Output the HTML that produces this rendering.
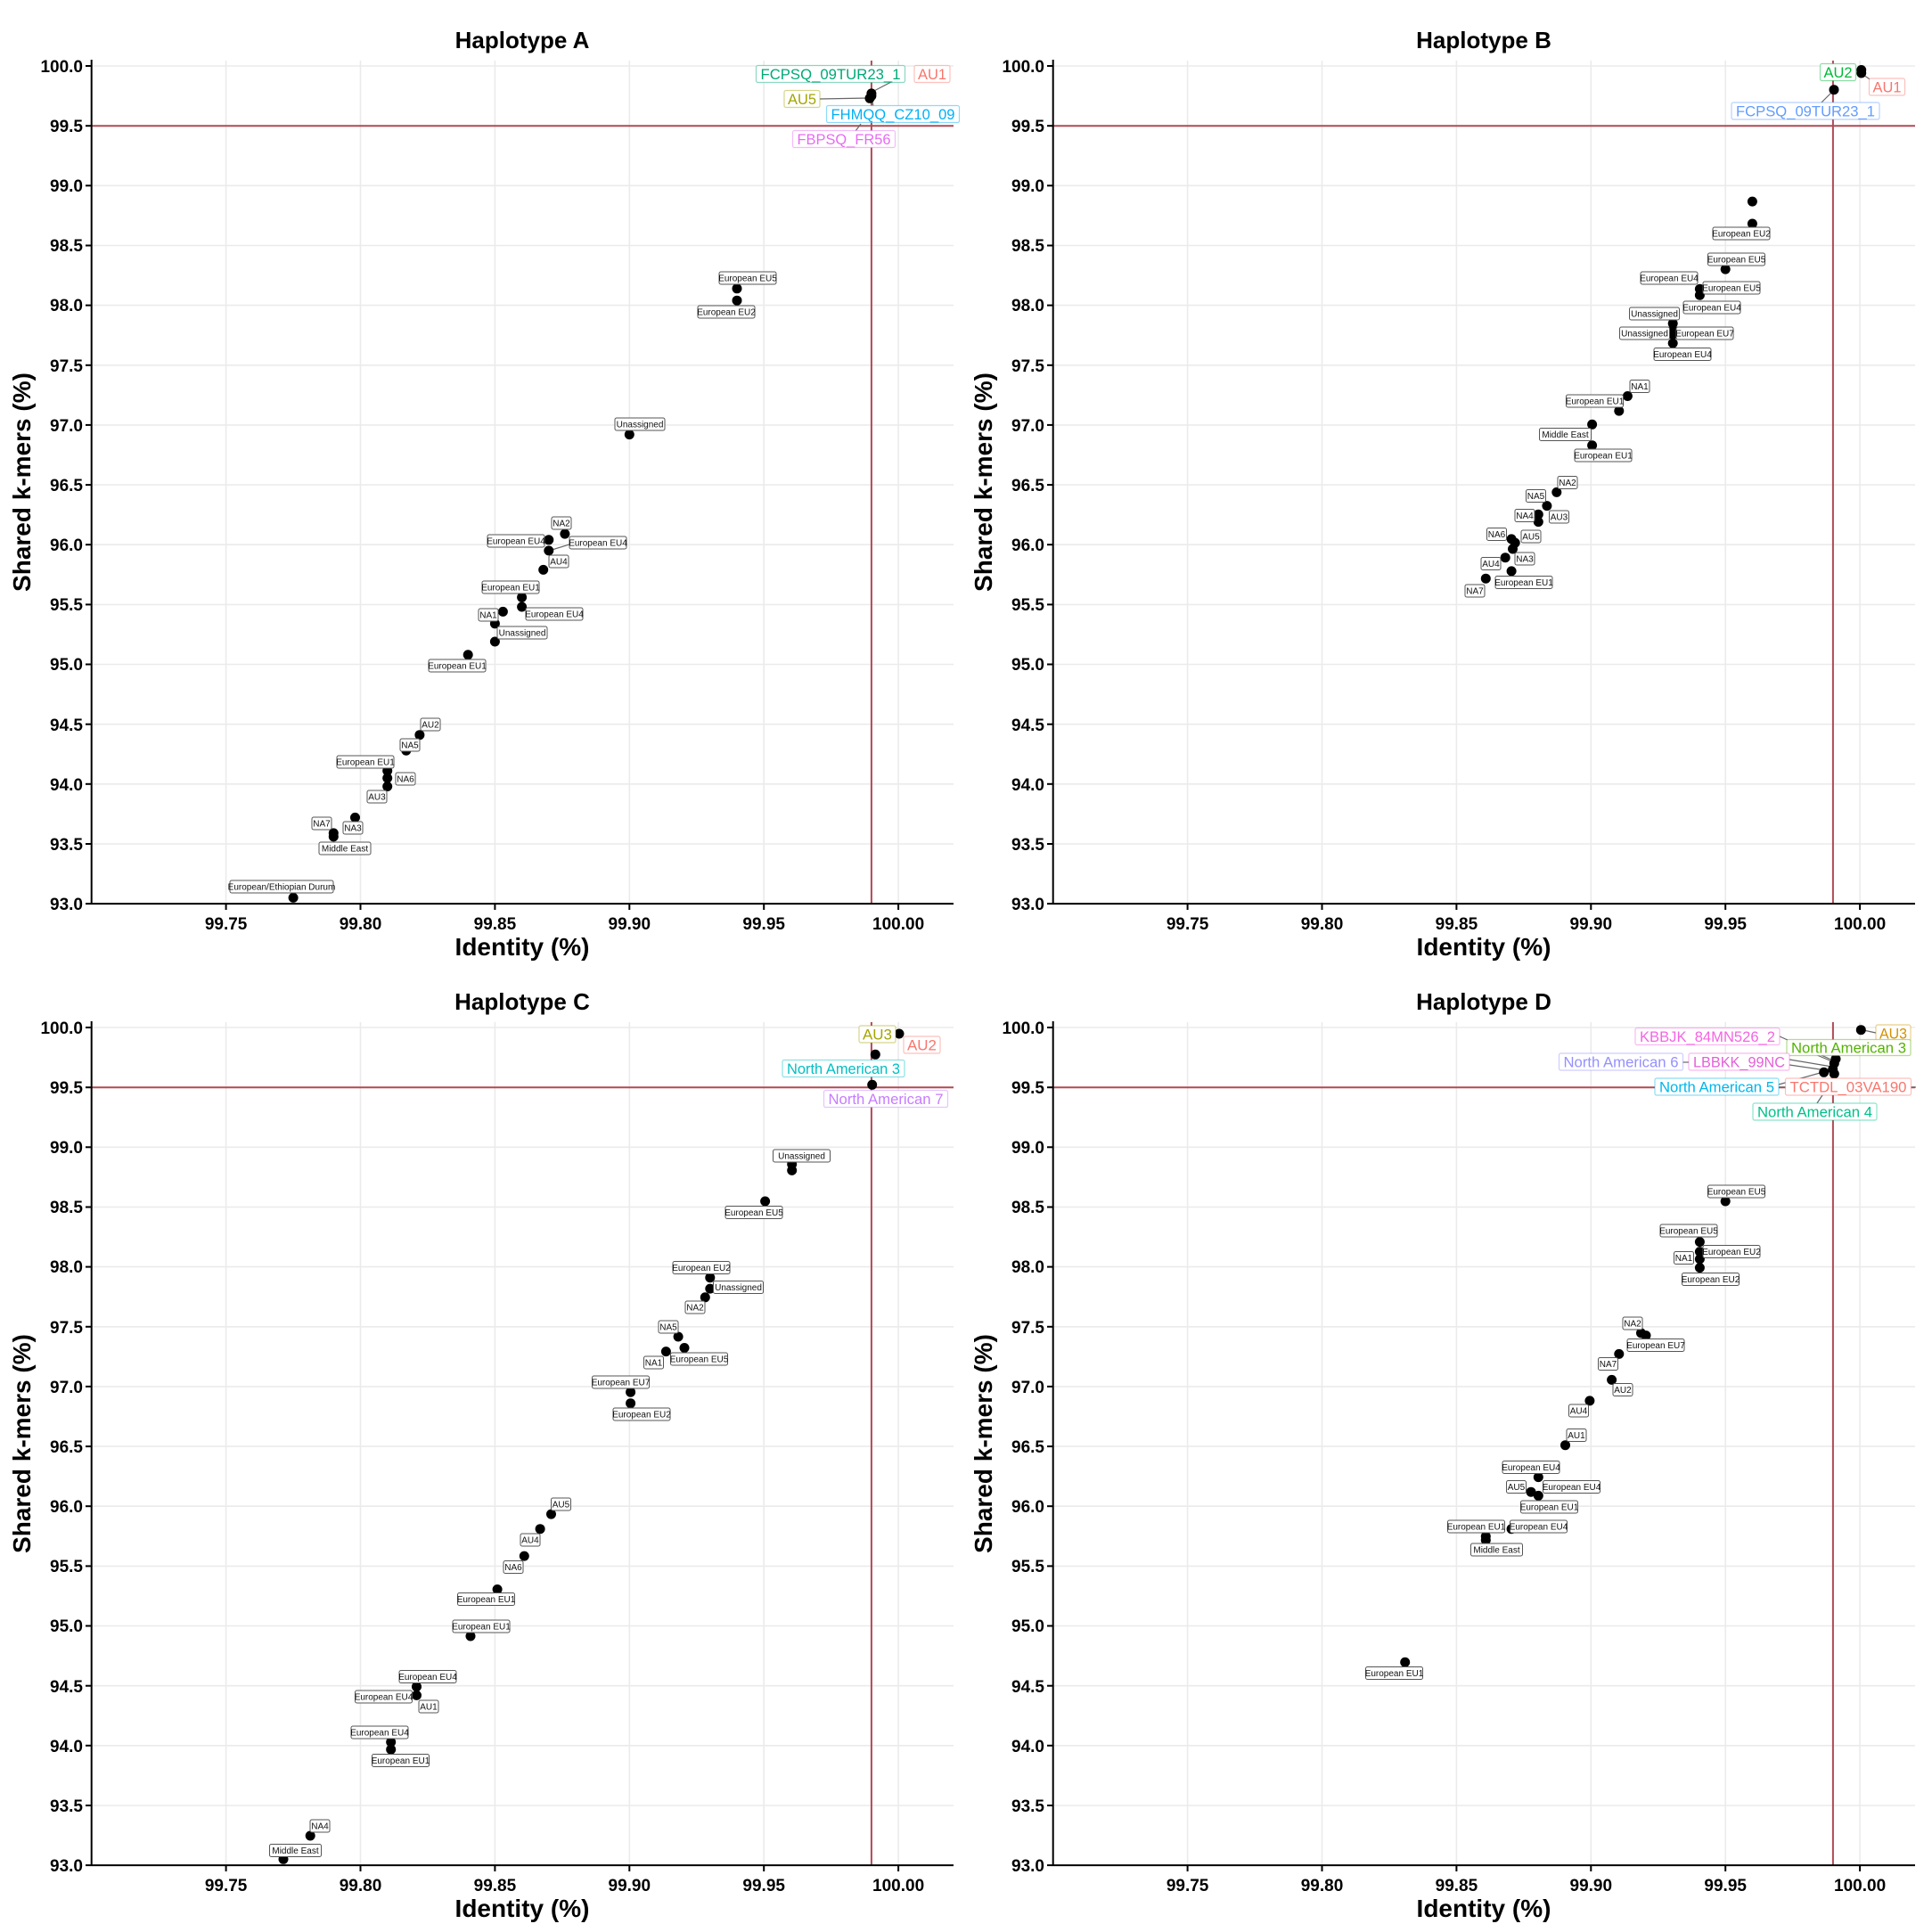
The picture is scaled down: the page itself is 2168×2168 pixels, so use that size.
<!DOCTYPE html>
<html><head><meta charset="utf-8"><style>
html,body{margin:0;padding:0;background:#fff}
svg{display:block}
text{font-family:"Liberation Sans",sans-serif}
.tk{font-size:19px;font-weight:bold;fill:#000}
.ti{font-size:26px;font-weight:bold;text-anchor:middle}
.al{font-size:28px;font-weight:bold;text-anchor:middle}
.g{stroke:#ebebeb;stroke-width:1.6}
.r{stroke:#b04a55;stroke-width:2}
.s rect{fill:#fff;stroke:#555;stroke-width:1;rx:2}
.s text{font-size:10px;text-anchor:middle;fill:#111}
.b rect{fill:#fff;stroke-width:1.2;rx:2;stroke-opacity:.45}
.b text{font-size:17px;text-anchor:middle}
.c{stroke:#666;stroke-width:1.2}
</style></head><body>
<svg width="2168" height="2168" viewBox="0 0 2168 2168" xmlns="http://www.w3.org/2000/svg">
<rect width="2168" height="2168" fill="#fff"/>
<defs>
<g id="ax">
<g class="g">
<line x1="253.6" y1="68" x2="253.6" y2="1014"/><line x1="404.5" y1="68" x2="404.5" y2="1014"/><line x1="555.4" y1="68" x2="555.4" y2="1014"/><line x1="706.3" y1="68" x2="706.3" y2="1014"/><line x1="857.2" y1="68" x2="857.2" y2="1014"/><line x1="1008.1" y1="68" x2="1008.1" y2="1014"/>
<line x1="103" y1="74" x2="1070" y2="74"/><line x1="103" y1="141.2" x2="1070" y2="141.2"/><line x1="103" y1="208.3" x2="1070" y2="208.3"/><line x1="103" y1="275.5" x2="1070" y2="275.5"/><line x1="103" y1="342.6" x2="1070" y2="342.6"/><line x1="103" y1="409.8" x2="1070" y2="409.8"/><line x1="103" y1="476.9" x2="1070" y2="476.9"/><line x1="103" y1="544.1" x2="1070" y2="544.1"/><line x1="103" y1="611.2" x2="1070" y2="611.2"/><line x1="103" y1="678.4" x2="1070" y2="678.4"/><line x1="103" y1="745.5" x2="1070" y2="745.5"/><line x1="103" y1="812.7" x2="1070" y2="812.7"/><line x1="103" y1="879.8" x2="1070" y2="879.8"/><line x1="103" y1="947" x2="1070" y2="947"/>
</g>
<line class="r" x1="103" y1="141.2" x2="1070" y2="141.2"/>
<line class="r" x1="977.9" y1="68" x2="977.9" y2="1014"/>
<g stroke="#000" stroke-width="2">
<line x1="102.7" y1="67" x2="102.7" y2="1015"/><line x1="101.7" y1="1014.1" x2="1070" y2="1014.1"/>
<line x1="96" y1="74" x2="102" y2="74"/><line x1="96" y1="141.2" x2="102" y2="141.2"/><line x1="96" y1="208.3" x2="102" y2="208.3"/><line x1="96" y1="275.5" x2="102" y2="275.5"/><line x1="96" y1="342.6" x2="102" y2="342.6"/><line x1="96" y1="409.8" x2="102" y2="409.8"/><line x1="96" y1="476.9" x2="102" y2="476.9"/><line x1="96" y1="544.1" x2="102" y2="544.1"/><line x1="96" y1="611.2" x2="102" y2="611.2"/><line x1="96" y1="678.4" x2="102" y2="678.4"/><line x1="96" y1="745.5" x2="102" y2="745.5"/><line x1="96" y1="812.7" x2="102" y2="812.7"/><line x1="96" y1="879.8" x2="102" y2="879.8"/><line x1="96" y1="947" x2="102" y2="947"/><line x1="96" y1="1014.1" x2="102" y2="1014.1"/>
<line x1="253.6" y1="1015" x2="253.6" y2="1021"/><line x1="404.5" y1="1015" x2="404.5" y2="1021"/><line x1="555.4" y1="1015" x2="555.4" y2="1021"/><line x1="706.3" y1="1015" x2="706.3" y2="1021"/><line x1="857.2" y1="1015" x2="857.2" y2="1021"/><line x1="1008.1" y1="1015" x2="1008.1" y2="1021"/>
</g>
</g>
</defs>

<!-- ================= PANEL A ================= -->
<g>
<use href="#ax"/>
<g class="tk" text-anchor="end">
<text x="93" y="81">100.0</text><text x="93" y="148">99.5</text><text x="93" y="215">99.0</text><text x="93" y="282">98.5</text><text x="93" y="349">98.0</text><text x="93" y="417">97.5</text><text x="93" y="484">97.0</text><text x="93" y="551">96.5</text><text x="93" y="618">96.0</text><text x="93" y="685">95.5</text><text x="93" y="752">95.0</text><text x="93" y="820">94.5</text><text x="93" y="887">94.0</text><text x="93" y="954">93.5</text><text x="93" y="1021">93.0</text>
</g>
<g class="tk" text-anchor="middle">
<text x="253.6" y="1043">99.75</text><text x="404.5" y="1043">99.80</text><text x="555.4" y="1043">99.85</text><text x="706.3" y="1043">99.90</text><text x="857.2" y="1043">99.95</text><text x="1008.1" y="1043">100.00</text>
</g>
<text class="ti" x="586" y="54">Haplotype A</text>
<text class="al" x="586" y="1072">Identity (%)</text>
<text class="al" transform="translate(34,541) rotate(-90)">Shared k-mers (%)</text>
<g class="c"><line x1="642" y1="610" x2="616" y2="618"/><line x1="1000" y1="92" x2="977" y2="104"/><line x1="920" y1="111" x2="975" y2="110"/><line x1="980" y1="119" x2="978" y2="110"/><line x1="960" y1="147" x2="966" y2="139"/></g>
<g fill="#000">
<circle cx="1008.1" cy="83.4" r="5.5"/><circle cx="977.9" cy="104.9" r="5.5"/><circle cx="977.9" cy="107.6" r="5.5"/><circle cx="976" cy="110.3" r="5.5"/>
<circle cx="827" cy="323.8" r="5.5"/><circle cx="827" cy="337.2" r="5.5"/><circle cx="706.3" cy="487.6" r="5.5"/>
<circle cx="633.9" cy="599.1" r="5.5"/><circle cx="615.8" cy="605.8" r="5.5"/><circle cx="615.8" cy="617.9" r="5.5"/><circle cx="609.7" cy="639.4" r="5.5"/>
<circle cx="585.6" cy="670.3" r="5.5"/><circle cx="585.6" cy="681" r="5.5"/><circle cx="564.4" cy="686.4" r="5.5"/><circle cx="555.4" cy="699.8" r="5.5"/><circle cx="555.4" cy="720" r="5.5"/>
<circle cx="525.2" cy="734.8" r="5.5"/><circle cx="470.9" cy="824.7" r="5.5"/><circle cx="455.8" cy="842.2" r="5.5"/>
<circle cx="434.7" cy="865" r="5.5"/><circle cx="434.7" cy="873.1" r="5.5"/><circle cx="434.7" cy="882.5" r="5.5"/>
<circle cx="398.5" cy="917.4" r="5.5"/><circle cx="374.3" cy="934.9" r="5.5"/><circle cx="374.3" cy="938.9" r="5.5"/><circle cx="329.1" cy="1007.4" r="5.5"/>
</g>
<g class="s">
<rect x="807" y="305" width="64" height="14"/><text x="839" y="315.5">European EU5</text>
<rect x="783" y="343" width="64" height="14"/><text x="815" y="353.5">European EU2</text>
<rect x="690" y="469" width="56" height="14"/><text x="718" y="479.5">Unassigned</text>
<rect x="619" y="580" width="22" height="14"/><text x="630" y="590.5">NA2</text>
<rect x="547" y="600" width="64" height="14"/><text x="579" y="610.5">European EU4</text>
<rect x="639" y="602" width="64" height="14"/><text x="671" y="612.5">European EU4</text>
<rect x="616" y="623" width="22" height="14"/><text x="627" y="633.5">AU4</text>
<rect x="541" y="652" width="64" height="14"/><text x="573" y="662.5">European EU1</text>
<rect x="590" y="682" width="64" height="14"/><text x="622" y="692.5">European EU4</text>
<rect x="537" y="683" width="22" height="14"/><text x="548" y="693.5">NA1</text>
<rect x="558" y="703" width="56" height="14"/><text x="586" y="713.5">Unassigned</text>
<rect x="481" y="740" width="64" height="14"/><text x="513" y="750.5">European EU1</text>
<rect x="472" y="806" width="22" height="14"/><text x="483" y="816.5">AU2</text>
<rect x="449" y="829" width="22" height="14"/><text x="460" y="839.5">NA5</text>
<rect x="378" y="848" width="64" height="14"/><text x="410" y="858.5">European EU1</text>
<rect x="444" y="867" width="22" height="14"/><text x="455" y="877.5">NA6</text>
<rect x="412" y="887" width="22" height="14"/><text x="423" y="897.5">AU3</text>
<rect x="385" y="922" width="22" height="14"/><text x="396" y="932.5">NA3</text>
<rect x="350" y="917" width="22" height="14"/><text x="361" y="927.5">NA7</text>
<rect x="358" y="945" width="58" height="14"/><text x="387" y="955.5">Middle East</text>
<rect x="258" y="988" width="116" height="14"/><text x="316" y="998.5">European/Ethiopian Durum</text>
</g>
<g class="b">
<rect x="848.5" y="73.5" width="167" height="19" stroke="#00A878"/><text x="932" y="89" fill="#00A878" textLength="157" lengthAdjust="spacingAndGlyphs">FCPSQ_09TUR23_1</text>
<rect x="1026" y="73.5" width="40" height="19" stroke="#F8766D"/><text x="1046" y="89" fill="#F8766D" textLength="32" lengthAdjust="spacingAndGlyphs">AU1</text>
<rect x="880" y="101.5" width="40" height="19" stroke="#A3A500"/><text x="900" y="117" fill="#A3A500" textLength="32" lengthAdjust="spacingAndGlyphs">AU5</text>
<rect x="927.5" y="118.5" width="149" height="19" stroke="#00B0F6"/><text x="1002" y="134" fill="#00B0F6" textLength="139" lengthAdjust="spacingAndGlyphs">FHMQQ_CZ10_09</text>
<rect x="889.5" y="146.5" width="115" height="19" stroke="#E76BF3"/><text x="947" y="162" fill="#E76BF3" textLength="105" lengthAdjust="spacingAndGlyphs">FBPSQ_FR56</text>
</g>
</g>

<!-- ================= PANEL B ================= -->
<g transform="translate(1079,0)">
<use href="#ax"/>
<g class="tk" text-anchor="end">
<text x="93" y="81">100.0</text><text x="93" y="148">99.5</text><text x="93" y="215">99.0</text><text x="93" y="282">98.5</text><text x="93" y="349">98.0</text><text x="93" y="417">97.5</text><text x="93" y="484">97.0</text><text x="93" y="551">96.5</text><text x="93" y="618">96.0</text><text x="93" y="685">95.5</text><text x="93" y="752">95.0</text><text x="93" y="820">94.5</text><text x="93" y="887">94.0</text><text x="93" y="954">93.5</text><text x="93" y="1021">93.0</text>
</g>
<g class="tk" text-anchor="middle">
<text x="253.6" y="1043">99.75</text><text x="404.5" y="1043">99.80</text><text x="555.4" y="1043">99.85</text><text x="706.3" y="1043">99.90</text><text x="857.2" y="1043">99.95</text><text x="1008.1" y="1043">100.00</text>
</g>
<text class="ti" x="586" y="54">Haplotype B</text>
<text class="al" x="586" y="1072">Identity (%)</text>
<text class="al" transform="translate(34,541) rotate(-90)">Shared k-mers (%)</text>
<g class="c"><line x1="1012" y1="84" x2="1025" y2="93"/><line x1="965" y1="115" x2="977" y2="103"/></g>
<g fill="#000">
<circle cx="1009.7" cy="78.5" r="5.5"/><circle cx="1009.7" cy="82" r="5.5"/><circle cx="979" cy="100.7" r="5.5"/>
<circle cx="887.4" cy="226.1" r="5.5"/><circle cx="887.4" cy="251" r="5.5"/><circle cx="857.2" cy="302.1" r="5.5"/>
<circle cx="828.4" cy="324.3" r="5.5"/><circle cx="828.4" cy="331.2" r="5.5"/>
<circle cx="798.2" cy="363" r="5.5"/><circle cx="798.2" cy="369.9" r="5.5"/><circle cx="798.2" cy="375.4" r="5.5"/><circle cx="798.2" cy="385.1" r="5.5"/>
<circle cx="747.4" cy="444.5" r="5.5"/><circle cx="737.8" cy="461.1" r="5.5"/><circle cx="707.6" cy="476.3" r="5.5"/><circle cx="707.6" cy="499.8" r="5.5"/>
<circle cx="667.8" cy="552.4" r="5.5"/><circle cx="656.9" cy="567.6" r="5.5"/><circle cx="647.3" cy="577.3" r="5.5"/><circle cx="647.3" cy="585.6" r="5.5"/>
<circle cx="617.1" cy="604.9" r="5.5"/><circle cx="621.2" cy="609.1" r="5.5"/><circle cx="618.5" cy="616" r="5.5"/><circle cx="610.2" cy="625.7" r="5.5"/><circle cx="617.1" cy="640.9" r="5.5"/><circle cx="588.3" cy="649.2" r="5.5"/>
</g>
<g class="s">
<rect x="843" y="255" width="64" height="14"/><text x="875" y="265.5">European EU2</text>
<rect x="837.5" y="284" width="64" height="14"/><text x="869.5" y="294.5">European EU5</text>
<rect x="762" y="305" width="64" height="14"/><text x="794" y="315.5">European EU4</text>
<rect x="832" y="316" width="64" height="14"/><text x="864" y="326.5">European EU5</text>
<rect x="810" y="338" width="64" height="14"/><text x="842" y="348.5">European EU4</text>
<rect x="749.5" y="345" width="56" height="14"/><text x="777.5" y="355.5">Unassigned</text>
<rect x="738.5" y="367" width="56" height="14"/><text x="766.5" y="377.5">Unassigned</text>
<rect x="802" y="367" width="64" height="14"/><text x="834" y="377.5">European EU7</text>
<rect x="777" y="390.5" width="64" height="14"/><text x="809" y="401">European EU4</text>
<rect x="750" y="426.5" width="22" height="14"/><text x="761" y="437">NA1</text>
<rect x="678.5" y="443" width="64" height="14"/><text x="710.5" y="453.5">European EU1</text>
<rect x="648.5" y="480.5" width="58" height="14"/><text x="677.5" y="491">Middle East</text>
<rect x="688" y="504" width="64" height="14"/><text x="720" y="514.5">European EU1</text>
<rect x="669" y="534.5" width="22" height="14"/><text x="680" y="545">NA2</text>
<rect x="633.5" y="549.5" width="22" height="14"/><text x="644.5" y="560">NA5</text>
<rect x="621" y="571.5" width="22" height="14"/><text x="632" y="582">NA4</text>
<rect x="659.5" y="573" width="22" height="14"/><text x="670.5" y="583.5">AU3</text>
<rect x="589.5" y="592.5" width="22" height="14"/><text x="600.5" y="603">NA6</text>
<rect x="628" y="595" width="22" height="14"/><text x="639" y="605.5">AU5</text>
<rect x="621" y="620" width="22" height="14"/><text x="632" y="630.5">NA3</text>
<rect x="583" y="625.5" width="22" height="14"/><text x="594" y="636">AU4</text>
<rect x="599" y="646.5" width="64" height="14"/><text x="631" y="657">European EU1</text>
<rect x="565" y="656" width="22" height="14"/><text x="576" y="666.5">NA7</text>
</g>
<g class="b">
<rect x="963.5" y="71.5" width="40" height="19" stroke="#00BA38"/><text x="983.5" y="87" fill="#00BA38" textLength="32" lengthAdjust="spacingAndGlyphs">AU2</text>
<rect x="1018.5" y="88" width="40" height="19" stroke="#F8766D"/><text x="1038.5" y="103.5" fill="#F8766D" textLength="32" lengthAdjust="spacingAndGlyphs">AU1</text>
<rect x="864" y="115" width="166" height="19" stroke="#619CFF"/><text x="947" y="130.5" fill="#619CFF" textLength="156" lengthAdjust="spacingAndGlyphs">FCPSQ_09TUR23_1</text>
</g>
</g>

<!-- ================= PANEL C ================= -->
<g transform="translate(0,1079)">
<use href="#ax"/>
<g class="tk" text-anchor="end">
<text x="93" y="81">100.0</text><text x="93" y="148">99.5</text><text x="93" y="215">99.0</text><text x="93" y="282">98.5</text><text x="93" y="349">98.0</text><text x="93" y="417">97.5</text><text x="93" y="484">97.0</text><text x="93" y="551">96.5</text><text x="93" y="618">96.0</text><text x="93" y="685">95.5</text><text x="93" y="752">95.0</text><text x="93" y="820">94.5</text><text x="93" y="887">94.0</text><text x="93" y="954">93.5</text><text x="93" y="1021">93.0</text>
</g>
<g class="tk" text-anchor="middle">
<text x="253.6" y="1043">99.75</text><text x="404.5" y="1043">99.80</text><text x="555.4" y="1043">99.85</text><text x="706.3" y="1043">99.90</text><text x="857.2" y="1043">99.95</text><text x="1008.1" y="1043">100.00</text>
</g>
<text class="ti" x="586" y="54">Haplotype C</text>
<text class="al" x="586" y="1072">Identity (%)</text>
<text class="al" transform="translate(34,541) rotate(-90)">Shared k-mers (%)</text>
<g fill="#000">
<circle cx="1009" cy="81" r="5.5"/><circle cx="982.3" cy="104.3" r="5.5"/><circle cx="978.7" cy="138.3" r="5.5"/>
<circle cx="888.7" cy="227.5" r="5.5"/><circle cx="888.7" cy="234.4" r="5.5"/><circle cx="858.6" cy="269" r="5.5"/>
<circle cx="796.8" cy="354.7" r="5.5"/><circle cx="796.8" cy="367.1" r="5.5"/><circle cx="791.3" cy="376.8" r="5.5"/>
<circle cx="761.1" cy="421" r="5.5"/><circle cx="768" cy="433.5" r="5.5"/><circle cx="747.4" cy="437.6" r="5.5"/>
<circle cx="707.6" cy="483.2" r="5.5"/><circle cx="707.6" cy="495.7" r="5.5"/>
<circle cx="618.5" cy="620.1" r="5.5"/><circle cx="606.1" cy="636.7" r="5.5"/><circle cx="588.3" cy="667.1" r="5.5"/>
<circle cx="558.1" cy="704.5" r="5.5"/><circle cx="528" cy="757" r="5.5"/>
<circle cx="467.5" cy="813.7" r="5.5"/><circle cx="467.5" cy="823.4" r="5.5"/>
<circle cx="438.7" cy="875.9" r="5.5"/><circle cx="438.7" cy="884.2" r="5.5"/>
<circle cx="348.2" cy="981" r="5.5"/><circle cx="318" cy="1007.3" r="5.5"/>
</g>
<g class="s">
<rect x="867.5" y="211" width="64" height="14"/><text x="899.5" y="221.5">Unassigned</text>
<rect x="814" y="274.5" width="64" height="14"/><text x="846" y="285">European EU5</text>
<rect x="755" y="336.5" width="64" height="14"/><text x="787" y="347">European EU2</text>
<rect x="800.5" y="358.5" width="56" height="14"/><text x="828.5" y="369">Unassigned</text>
<rect x="769" y="381" width="22" height="14"/><text x="780" y="391.5">NA2</text>
<rect x="739" y="403" width="22" height="14"/><text x="750" y="413.5">NA5</text>
<rect x="752.5" y="439" width="64" height="14"/><text x="784.5" y="449.5">European EU5</text>
<rect x="722.5" y="443" width="22" height="14"/><text x="733.5" y="453.5">NA1</text>
<rect x="664.5" y="465" width="64" height="14"/><text x="696.5" y="475.5">European EU7</text>
<rect x="688" y="501" width="64" height="14"/><text x="720" y="511.5">European EU2</text>
<rect x="618.5" y="602" width="22" height="14"/><text x="629.5" y="612.5">AU5</text>
<rect x="584" y="642" width="22" height="14"/><text x="595" y="652.5">AU4</text>
<rect x="565" y="672.5" width="22" height="14"/><text x="576" y="683">NA6</text>
<rect x="513.5" y="708.5" width="64" height="14"/><text x="545.5" y="719">European EU1</text>
<rect x="508" y="739" width="64" height="14"/><text x="540" y="749.5">European EU1</text>
<rect x="448" y="795.5" width="64" height="14"/><text x="480" y="806">European EU4</text>
<rect x="398.5" y="818" width="64" height="14"/><text x="430.5" y="828.5">European EU4</text>
<rect x="470" y="829" width="22" height="14"/><text x="481" y="839.5">AU1</text>
<rect x="394" y="858" width="64" height="14"/><text x="426" y="868.5">European EU4</text>
<rect x="417.5" y="889.5" width="64" height="14"/><text x="449.5" y="900">European EU1</text>
<rect x="348" y="963" width="22" height="14"/><text x="359" y="973.5">NA4</text>
<rect x="302.5" y="990.5" width="58" height="14"/><text x="331.5" y="1001">Middle East</text>
</g>
<g class="b">
<rect x="964" y="72" width="41" height="19" stroke="#A3A500"/><text x="984.5" y="87.5" fill="#A3A500" textLength="33" lengthAdjust="spacingAndGlyphs">AU3</text>
<rect x="1014" y="84" width="41" height="19" stroke="#F8766D"/><text x="1034.5" y="99.5" fill="#F8766D" textLength="33" lengthAdjust="spacingAndGlyphs">AU2</text>
<rect x="878" y="110.5" width="137" height="19" stroke="#00BFC4"/><text x="946.5" y="126" fill="#00BFC4" textLength="127" lengthAdjust="spacingAndGlyphs">North American 3</text>
<rect x="924.5" y="144.5" width="139" height="19" stroke="#C77CFF"/><text x="994" y="160" fill="#C77CFF" textLength="129" lengthAdjust="spacingAndGlyphs">North American 7</text>
</g>
</g>

<!-- ================= PANEL D ================= -->
<g transform="translate(1079,1079)">
<use href="#ax"/>
<g class="tk" text-anchor="end">
<text x="93" y="81">100.0</text><text x="93" y="148">99.5</text><text x="93" y="215">99.0</text><text x="93" y="282">98.5</text><text x="93" y="349">98.0</text><text x="93" y="417">97.5</text><text x="93" y="484">97.0</text><text x="93" y="551">96.5</text><text x="93" y="618">96.0</text><text x="93" y="685">95.5</text><text x="93" y="752">95.0</text><text x="93" y="820">94.5</text><text x="93" y="887">94.0</text><text x="93" y="954">93.5</text><text x="93" y="1021">93.0</text>
</g>
<g class="tk" text-anchor="middle">
<text x="253.6" y="1043">99.75</text><text x="404.5" y="1043">99.80</text><text x="555.4" y="1043">99.85</text><text x="706.3" y="1043">99.90</text><text x="857.2" y="1043">99.95</text><text x="1008.1" y="1043">100.00</text>
</g>
<text class="ti" x="586" y="54">Haplotype D</text>
<text class="al" x="586" y="1072">Identity (%)</text>
<text class="al" transform="translate(34,541) rotate(-90)">Shared k-mers (%)</text>
<g class="c">
<line x1="1012" y1="77" x2="1026" y2="80"/><line x1="918" y1="84" x2="978" y2="111"/><line x1="960" y1="105" x2="979" y2="113"/>
<line x1="929" y1="110" x2="977" y2="118"/><line x1="929" y1="116" x2="977" y2="123"/><line x1="809" y1="113" x2="816" y2="113"/>
<line x1="917" y1="141" x2="925" y2="141"/><line x1="917" y1="138" x2="967" y2="124"/><line x1="1065" y1="141" x2="1071" y2="141"/>
<line x1="960" y1="159" x2="966" y2="150"/>
</g>
<g fill="#000">
<circle cx="1009.3" cy="76.7" r="5.5"/><circle cx="981" cy="109.3" r="5.5"/><circle cx="979.3" cy="114.3" r="5.5"/><circle cx="977.7" cy="121" r="5.5"/><circle cx="967.7" cy="124.3" r="5.5"/><circle cx="979.3" cy="126" r="5.5"/>
<circle cx="857.2" cy="269" r="5.5"/><circle cx="828.4" cy="314.6" r="5.5"/><circle cx="828.4" cy="325.6" r="5.5"/><circle cx="828.4" cy="333.9" r="5.5"/><circle cx="828.4" cy="343.6" r="5.5"/>
<circle cx="762.5" cy="416.9" r="5.5"/><circle cx="768" cy="419.6" r="5.5"/><circle cx="737.8" cy="440.4" r="5.5"/><circle cx="729.6" cy="469.4" r="5.5"/>
<circle cx="704.9" cy="492.9" r="5.5"/><circle cx="677.5" cy="542.7" r="5.5"/>
<circle cx="647.3" cy="578.6" r="5.5"/><circle cx="639" cy="595.2" r="5.5"/><circle cx="647.3" cy="599.4" r="5.5"/><circle cx="617.1" cy="636.7" r="5.5"/>
<circle cx="588.3" cy="645" r="5.5"/><circle cx="588.3" cy="649.2" r="5.5"/><circle cx="497.7" cy="786.3" r="5.5"/>
</g>
<g class="s">
<rect x="837.5" y="251" width="64" height="14"/><text x="869.5" y="261.5">European EU5</text>
<rect x="784" y="295" width="64" height="14"/><text x="816" y="305.5">European EU5</text>
<rect x="832" y="318.5" width="64" height="14"/><text x="864" y="329">European EU2</text>
<rect x="799.5" y="325.5" width="22" height="14"/><text x="810.5" y="336">NA1</text>
<rect x="808.5" y="349.5" width="64" height="14"/><text x="840.5" y="360">European EU2</text>
<rect x="742" y="399" width="22" height="14"/><text x="753" y="409.5">NA2</text>
<rect x="747" y="423.5" width="64" height="14"/><text x="779" y="434">European EU7</text>
<rect x="714.5" y="444.5" width="22" height="14"/><text x="725.5" y="455">NA7</text>
<rect x="731" y="473.5" width="22" height="14"/><text x="742" y="484">AU2</text>
<rect x="681.5" y="497" width="22" height="14"/><text x="692.5" y="507.5">AU4</text>
<rect x="679" y="524.5" width="22" height="14"/><text x="690" y="535">AU1</text>
<rect x="607" y="560.5" width="64" height="14"/><text x="639" y="571">European EU4</text>
<rect x="611.5" y="582.5" width="22" height="14"/><text x="622.5" y="593">AU5</text>
<rect x="652.5" y="582.5" width="64" height="14"/><text x="684.5" y="593">European EU4</text>
<rect x="627.5" y="605" width="64" height="14"/><text x="659.5" y="615.5">European EU1</text>
<rect x="615.5" y="627" width="64" height="14"/><text x="647.5" y="637.5">European EU4</text>
<rect x="545.5" y="627" width="64" height="14"/><text x="577.5" y="637.5">European EU1</text>
<rect x="571.5" y="653" width="58" height="14"/><text x="600.5" y="663.5">Middle East</text>
<rect x="453.5" y="791.5" width="64" height="14"/><text x="485.5" y="802">European EU1</text>
</g>
<g class="b">
<rect x="1026" y="71" width="39" height="19" stroke="#D39200"/><text x="1045.5" y="86.5" fill="#D39200" textLength="31" lengthAdjust="spacingAndGlyphs">AU3</text>
<rect x="926" y="87.5" width="139" height="18" stroke="#53B400"/><text x="995.5" y="102.5" fill="#53B400" textLength="129" lengthAdjust="spacingAndGlyphs">North American 3</text>
<rect x="756" y="74.5" width="162" height="19" stroke="#F564E3"/><text x="837" y="90" fill="#F564E3" textLength="152" lengthAdjust="spacingAndGlyphs">KBBJK_84MN526_2</text>
<rect x="670.5" y="103" width="139" height="19" stroke="#9590FF"/><text x="740" y="118.5" fill="#9590FF" textLength="129" lengthAdjust="spacingAndGlyphs">North American 6</text>
<rect x="816" y="103" width="113" height="19" stroke="#F564E3"/><text x="872.5" y="118.5" fill="#E55FD8" textLength="103" lengthAdjust="spacingAndGlyphs">LBBKK_99NC</text>
<rect x="778" y="131" width="139" height="19" stroke="#00B6EB"/><text x="847.5" y="146.5" fill="#00B6EB" textLength="129" lengthAdjust="spacingAndGlyphs">North American 5</text>
<rect x="924.5" y="131" width="141" height="19" stroke="#F8766D"/><text x="995" y="146.5" fill="#F8766D" textLength="131" lengthAdjust="spacingAndGlyphs">TCTDL_03VA190</text>
<rect x="888" y="159" width="139" height="19" stroke="#00C08B"/><text x="957.5" y="174.5" fill="#00C08B" textLength="129" lengthAdjust="spacingAndGlyphs">North American 4</text>
</g>
</g>
</svg>
</body></html>
